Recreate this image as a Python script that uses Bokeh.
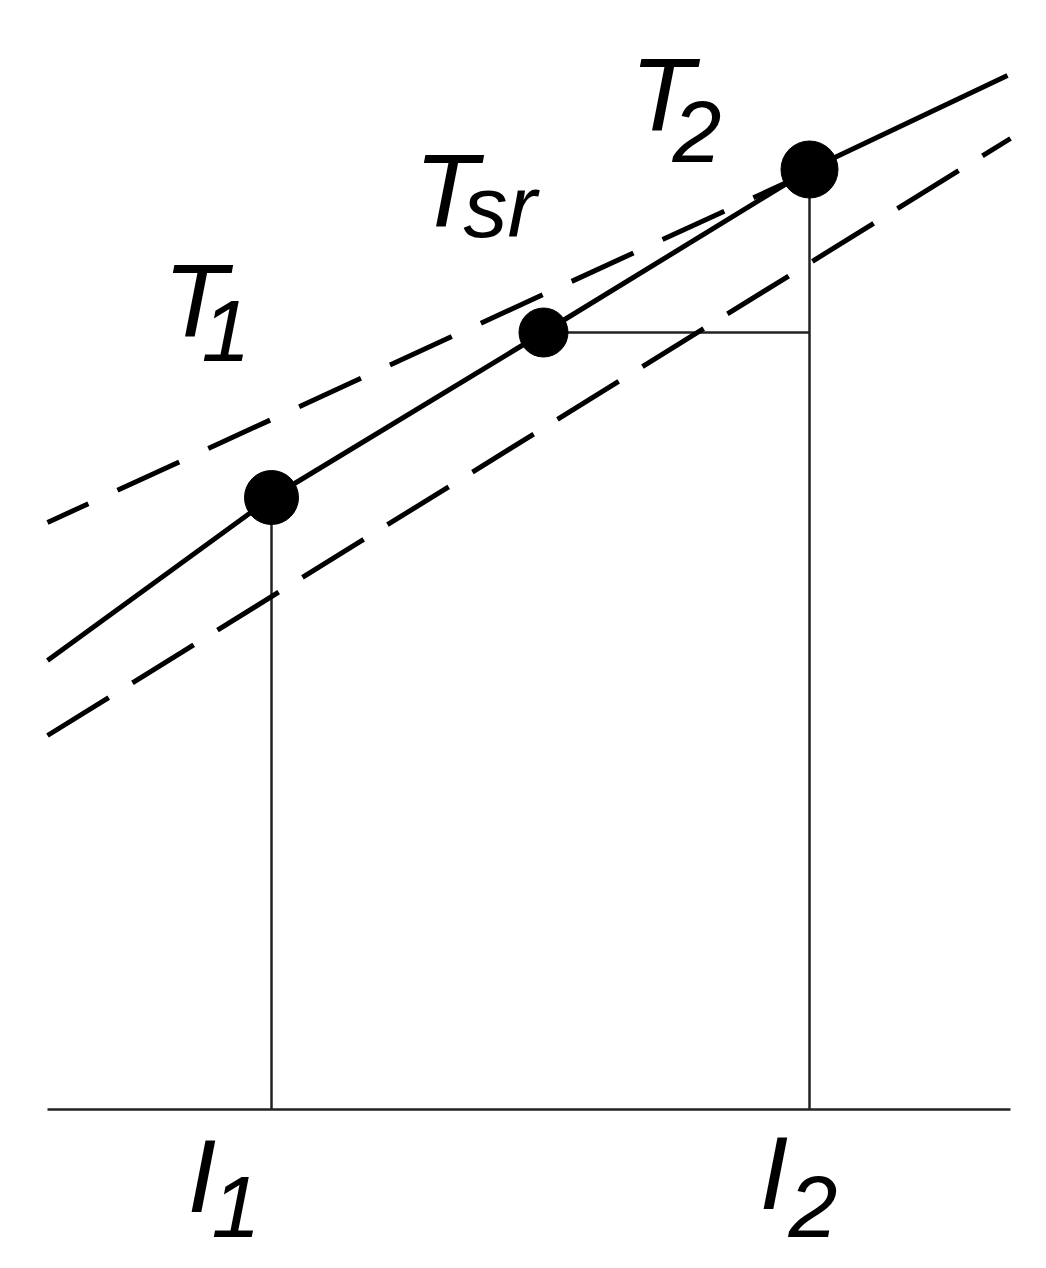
from bokeh.plotting import figure
from bokeh.models import Range1d
from bokeh.embed import file_html
from bokeh.resources import INLINE
from bokeh.core.properties import value

# ---- data (arbitrary units: current I on x, temperature T on y) ----
point_names = ["T1", "Tsr", "T2"]
point_I = [2.24, 4.96, 7.62]
point_T = [6.12, 7.77, 9.40]

curve_I = [0.0, 2.24, 4.96, 7.62, 9.60]
curve_T = [4.49, 6.12, 7.77, 9.40, 10.34]

upper_I = [0.0, 7.50]
upper_T = [5.87, 9.32]

lower_I = [0.0, 9.63]
lower_T = [3.74, 9.71]

axis_I = [0.0, 9.63]
axis_T = [0.0, 0.0]

main_labels = ["T", "T", "T", "I", "I"]
sub_labels = ["1", "sr", "2", "1", "2"]

# ---- layout ----
W, H = 1030, 1262
PX = 0.01  # data units per screen pixel
X0, YTOP = -0.47, 11.09
p = figure(width=W, height=H, output_backend="svg", toolbar_location=None,
           x_range=Range1d(X0, X0 + W * PX),
           y_range=Range1d(YTOP - H * PX, YTOP),
           min_border=0)
p.axis.visible = False
p.grid.visible = False
p.outline_line_color = None
p.background_fill_color = "white"
p.border_fill_color = "white"

thin = dict(line_color="#222222", line_width=2.5)
thick = dict(line_color="black", line_width=5)

# base axis
p.line(axis_I, axis_T, **thin)
# verticals from T1 and T2 to the axis
p.segment(x0=[point_I[0], point_I[2]], y0=[point_T[0], point_T[2]],
          x1=[point_I[0], point_I[2]], y1=[axis_T[0], axis_T[0]], **thin)
# horizontal from Tsr to the I2 vertical
p.segment(x0=[point_I[1]], y0=[point_T[1]], x1=[point_I[2]], y1=[point_T[1]], **thin)

# dashed bounds
p.line(upper_I, upper_T, line_dash="68 32", line_dash_offset=23, **thick)
p.line(lower_I, lower_T, line_dash="72 28", **thick)
# solid curve
p.line(curve_I, curve_T, **thick)

# points
dot_sizes = [54, 49, 57]
for i in range(3):
    p.scatter([point_I[i]], [point_T[i]], size=dot_sizes[i],
              fill_color="black", line_color="black")

# labels (anchored at the data points, offset in screen pixels)
MAIN_FS, SUB_FS = 104, 88
anchors = [(point_I[0], point_T[0]), (point_I[1], point_T[1]), (point_I[2], point_T[2]),
           (point_I[0], axis_T[0]), (point_I[2], axis_T[0])]
main_off = [(-108, -159), (-129, -104), (-179, -37), (-84, 104), (-50, 101)]
sub_off = [(-70, -135), (-80, -94), (-137, -6), (-60, 129), (-21, 129)]
main_shift = 0.36 * MAIN_FS
sub_shift = 0.36 * SUB_FS

mx = [a[0] + o[0] * PX for a, o in zip(anchors, main_off)]
my = [a[1] - (o[1] - main_shift) * PX for a, o in zip(anchors, main_off)]
sx = [a[0] + o[0] * PX for a, o in zip(anchors, sub_off)]
sy = [a[1] - (o[1] - sub_shift) * PX for a, o in zip(anchors, sub_off)]

font = value("Liberation Sans")
p.text(mx, my, text=main_labels, text_font=font, text_font_style="italic",
       text_font_size=f"{MAIN_FS}px", text_align="left", text_baseline="alphabetic",
       text_color="black")
p.text(sx, sy, text=sub_labels, text_font=font, text_font_style="italic",
       text_font_size=f"{SUB_FS}px", text_align="left", text_baseline="alphabetic",
       text_color="black")

open("out.html", "w").write(file_html(p, INLINE))
